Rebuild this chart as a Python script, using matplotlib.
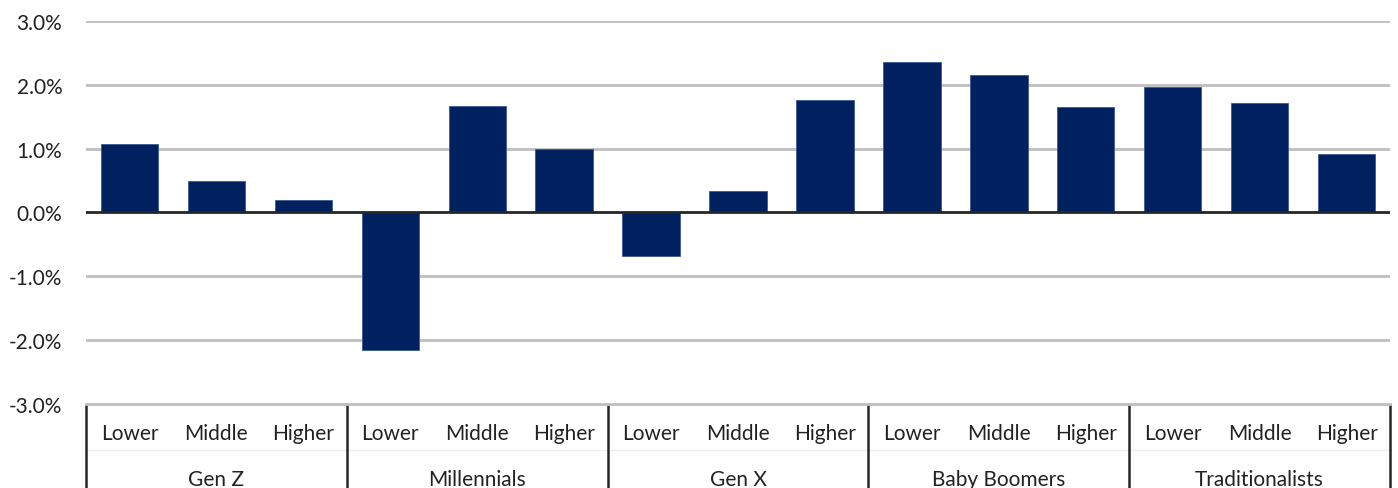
import matplotlib
matplotlib.use("Agg")
import matplotlib.pyplot as plt
import matplotlib.transforms as mtransforms
from matplotlib.ticker import FuncFormatter

generations = ["Gen Z", "Millennials", "Gen X", "Baby Boomers", "Traditionalists"]
income_levels = ["Lower", "Middle", "Higher"]
values = [
    1.07, 0.50, 0.20,     # Gen Z
    -2.15, 1.67, 1.00,    # Millennials
    -0.68, 0.33, 1.76,    # Gen X
    2.35, 2.15, 1.66,     # Baby Boomers
    1.96, 1.71, 0.91,     # Traditionalists
]
y_ticks = [-3, -2, -1, 0, 1, 2, 3]

plt.rcParams["font.family"] = ["Lato", "DejaVu Sans"]

fig = plt.figure(figsize=(13.98, 4.89), dpi=100)
ax = fig.add_axes([0.0615, 0.1718, 0.9328, 0.7832])

n_lvl = len(income_levels)
x = list(range(len(values)))
ax.bar(x, values, width=0.66, color="#00205F", edgecolor="#3A5A95",
       linewidth=0.6, zorder=3)

ax.set_xlim(-0.5, len(values) - 0.5)
ax.set_ylim(min(y_ticks), max(y_ticks))
ax.set_yticks(y_ticks)
ax.yaxis.set_major_formatter(FuncFormatter(lambda v, _: f"{v:.1f}%"))
ax.tick_params(axis="y", length=0, pad=17, labelsize=15, labelcolor="#222222")

for t in y_ticks:
    if t == 0:
        ax.axhline(t, color="#262626", lw=2.0, zorder=4)
    elif t != min(y_ticks):
        ax.axhline(t, color="#BFBFBF", lw=2.0, zorder=1)

for side in ["top", "right", "left"]:
    ax.spines[side].set_visible(False)
ax.spines["bottom"].set_color("#BFBFBF")
ax.spines["bottom"].set_linewidth(2.0)

ax.set_xticks(x)
ax.set_xticklabels(income_levels * len(generations))
ax.tick_params(axis="x", length=0, pad=14, labelsize=15, labelcolor="#222222")

trans = mtransforms.blended_transform_factory(ax.transData, ax.transAxes)
ax_h_px = ax.get_position().height * fig.get_figheight() * fig.dpi

# faint rule between the two label rows
ax.plot([-0.5, len(values) - 0.5], [-46 / ax_h_px] * 2, transform=trans,
        color="#EDEDED", lw=1.0, clip_on=False)

for g, name in enumerate(generations):
    center = g * n_lvl + (n_lvl - 1) / 2
    ax.text(center, -75 / ax_h_px, name, transform=trans, ha="center",
            va="center", fontsize=15, color="#222222")

for b in range(len(generations) + 1):
    xb = b * n_lvl - 0.5
    ax.plot([xb, xb], [0, -0.3], transform=trans, color="#262626", lw=1.8,
            clip_on=False, solid_capstyle="butt")

fig.savefig("out.png", dpi=100)
